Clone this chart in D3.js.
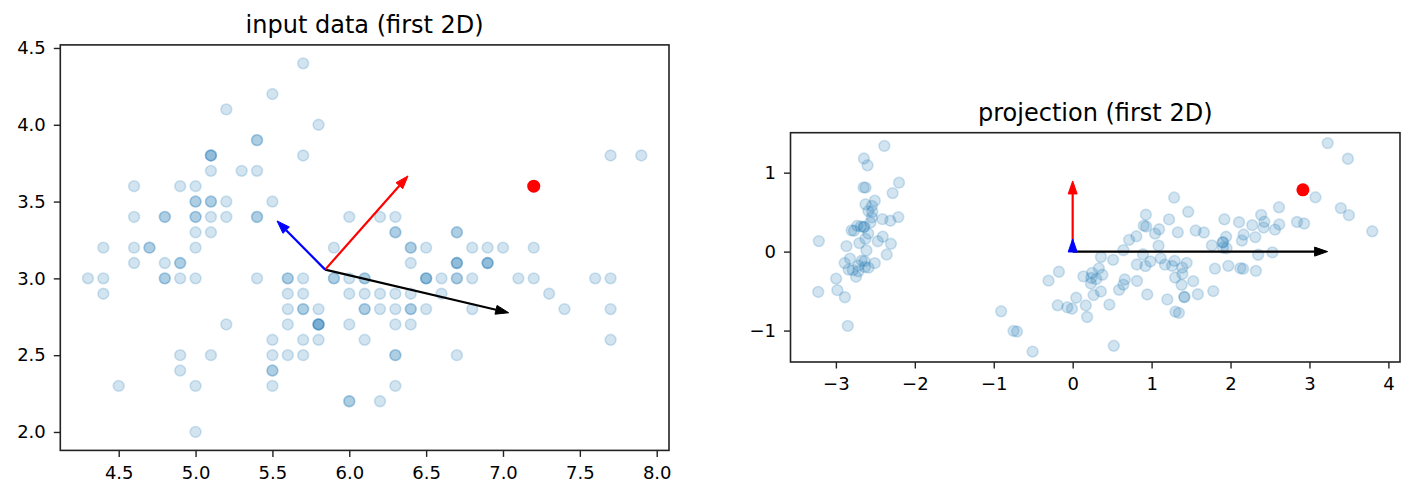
<!DOCTYPE html>
<html>
<head>
<meta charset="utf-8">
<script src="https://cdn.jsdelivr.net/npm/d3@7"></script>
<style>
  body { margin: 0; background: #fff; }
  svg text { font-family: "DejaVu Sans", sans-serif; }
</style>
</head>
<body>
<div id="chart"></div>
<script>
// iris: sepal length / sepal width (first 2D of the input)
var sepalLength = [
  5.1,4.9,4.7,4.6,5.0,5.4,4.6,5.0,4.4,4.9,5.4,4.8,4.8,4.3,5.8,5.7,5.4,5.1,5.7,5.1,
  5.4,5.1,4.6,5.1,4.8,5.0,5.0,5.2,5.2,4.7,4.8,5.4,5.2,5.5,4.9,5.0,5.5,4.9,4.4,5.1,
  5.0,4.5,4.4,5.0,5.1,4.8,5.1,4.6,5.3,5.0,
  7.0,6.4,6.9,5.5,6.5,5.7,6.3,4.9,6.6,5.2,5.0,5.9,6.0,6.1,5.6,6.7,5.6,5.8,6.2,5.6,
  5.9,6.1,6.3,6.1,6.4,6.6,6.8,6.7,6.0,5.7,5.5,5.5,5.8,6.0,5.4,6.0,6.7,6.3,5.6,5.5,
  5.5,6.1,5.8,5.0,5.6,5.7,5.7,6.2,5.1,5.7,
  6.3,5.8,7.1,6.3,6.5,7.6,4.9,7.3,6.7,7.2,6.5,6.4,6.8,5.7,5.8,6.4,6.5,7.7,7.7,6.0,
  6.9,5.6,7.7,6.3,6.7,7.2,6.2,6.1,6.4,7.2,7.4,7.9,6.4,6.3,6.1,7.7,6.3,6.4,6.0,6.9,
  6.7,6.9,5.8,6.8,6.7,6.7,6.3,6.5,6.2,5.9
];
var sepalWidth = [
  3.5,3.0,3.2,3.1,3.6,3.9,3.4,3.4,2.9,3.1,3.7,3.4,3.0,3.0,4.0,4.4,3.9,3.5,3.8,3.8,
  3.4,3.7,3.6,3.3,3.4,3.0,3.4,3.5,3.4,3.2,3.1,3.4,4.1,4.2,3.1,3.2,3.5,3.6,3.0,3.4,
  3.5,2.3,3.2,3.5,3.8,3.0,3.8,3.2,3.7,3.3,
  3.2,3.2,3.1,2.3,2.8,2.8,3.3,2.4,2.9,2.7,2.0,3.0,2.2,2.9,2.9,3.1,3.0,2.7,2.2,2.5,
  3.2,2.8,2.5,2.8,2.9,3.0,2.8,3.0,2.9,2.6,2.4,2.4,2.7,2.7,3.0,3.4,3.1,2.3,3.0,2.5,
  2.6,3.0,2.6,2.3,2.7,3.0,2.9,2.9,2.5,2.8,
  3.3,2.7,3.0,2.9,3.0,3.0,2.5,2.9,2.5,3.6,3.2,2.7,3.0,2.5,2.8,3.2,3.0,3.8,2.6,2.2,
  3.2,2.8,2.8,2.7,3.3,3.2,2.8,3.0,2.8,3.0,2.8,3.8,2.8,2.8,2.6,3.0,3.4,3.1,3.0,3.1,
  3.1,3.1,2.7,3.2,3.3,3.0,2.5,3.0,3.4,3.0
];

// projection onto the first two components
var proj1 = [
  -2.684,-2.714,-2.889,-2.745,-2.729,-2.281,-2.821,-2.626,-2.886,-2.673,
  -2.507,-2.613,-2.786,-3.224,-2.645,-2.386,-2.624,-2.648,-2.200,-2.588,
  -2.310,-2.544,-3.216,-2.303,-2.356,-2.507,-2.469,-2.562,-2.640,-2.632,
  -2.587,-2.410,-2.649,-2.599,-2.637,-2.866,-2.625,-2.801,-2.981,-2.590,
  -2.770,-2.849,-2.997,-2.406,-2.209,-2.714,-2.538,-2.839,-2.543,-2.703,
  1.285,0.932,1.464,0.183,1.088,0.642,1.095,-0.749,1.044,-0.009,
  -0.508,0.512,0.265,0.985,-0.174,0.928,0.660,0.236,0.945,0.045,
  1.116,0.358,1.298,0.922,0.715,0.900,1.332,1.558,0.813,-0.306,
  -0.068,-0.190,0.136,1.380,0.588,0.807,1.221,0.815,0.246,0.166,
  0.465,0.891,0.231,-0.705,0.357,0.332,0.376,0.643,-0.906,0.299,
  2.531,1.415,2.617,1.972,2.350,3.397,0.521,2.933,2.321,2.917,
  1.662,1.803,2.166,1.346,1.586,1.904,1.950,3.487,3.796,1.301,
  2.428,1.199,3.500,1.389,2.275,2.614,1.259,1.291,2.124,2.388,
  2.842,3.231,2.159,1.444,1.781,3.076,2.144,1.905,1.169,2.108,
  2.314,1.922,1.415,2.563,2.419,1.944,1.527,1.764,1.901,1.390
];
var proj2 = [
  0.319,-0.177,-0.145,-0.318,0.327,0.741,-0.089,0.163,-0.578,-0.114,
  0.645,0.015,-0.235,-0.511,1.179,1.338,0.811,0.312,0.873,0.514,
  0.391,0.433,0.133,0.099,-0.037,-0.146,0.131,0.368,0.312,-0.197,
  -0.204,0.411,0.813,1.093,-0.121,0.069,0.599,0.269,-0.488,0.229,
  0.264,-0.941,-0.342,0.189,0.437,-0.250,0.504,-0.228,0.579,0.108,
  0.685,0.318,0.504,-0.828,0.075,-0.418,0.283,-1.005,0.228,-0.723,
  -1.266,-0.104,-0.550,-0.125,-0.255,0.467,-0.353,-0.334,-0.543,-0.584,
  -0.085,-0.069,-0.328,-0.183,0.149,0.329,0.244,0.267,-0.163,-0.368,
  -0.705,-0.680,-0.314,-0.421,-0.484,0.194,0.408,-0.372,-0.269,-0.682,
  -0.671,-0.034,-0.404,-1.012,-0.505,-0.213,-0.293,0.018,-0.756,-0.349,
  -0.010,-0.575,0.344,-0.180,-0.040,0.551,-1.193,0.356,-0.244,0.783,
  0.242,-0.216,0.216,-0.777,-0.540,0.119,0.042,1.176,0.257,-0.761,
  0.378,-0.606,0.461,-0.204,0.335,0.561,-0.180,-0.117,-0.210,0.465,
  0.375,1.374,-0.217,-0.143,-0.500,0.688,0.140,0.049,-0.165,0.372,
  0.184,0.409,-0.575,0.278,0.305,0.188,-0.375,0.079,0.117,-0.283
];

// the one sample drawn in red
var highlightIndex = 109;

// component arrows: start point and end points (data units)
var arrowColors = ["black", "red", "blue"];
var inputOrigin = [5.843, 3.057];
var inputArrowEnds = [[7.037, 2.776], [6.382, 3.667], [5.530, 3.374]];
var projOrigin = [0, 0];
var projArrowEnds = [[3.23, 0], [0, 0.895], [0, 0.16]];

var inputXTicks = [4.5, 5.0, 5.5, 6.0, 6.5, 7.0, 7.5, 8.0];
var inputYTicks = [2.0, 2.5, 3.0, 3.5, 4.0, 4.5];
var projXTicks = [-3, -2, -1, 0, 1, 2, 3, 4];
var projYTicks = [-1, 0, 1];

var titles = ["input data (first 2D)", "projection (first 2D)"];

var svgWidth = 1413;
var svgHeight = 498;

var svg = d3.select("#chart")
  .append("svg")
  .attr("width", svgWidth)
  .attr("height", svgHeight);

var blue = "#1f77b4";

function drawPanel(opts) {
  var x = d3.scaleLinear().domain(opts.xDomain).range([opts.left, opts.right]);
  var y = d3.scaleLinear().domain(opts.yDomain).range([opts.bottom, opts.top]);

  var xAxis = svg.append("g")
    .attr("transform", `translate(0, ${opts.bottom})`)
    .call(d3.axisBottom(x).tickValues(opts.xTicks).tickFormat(opts.fmt)
      .tickSizeInner(6.5).tickSizeOuter(0).tickPadding(9));
  var yAxis = svg.append("g")
    .attr("transform", `translate(${opts.left}, 0)`)
    .call(d3.axisLeft(y).tickValues(opts.yTicks).tickFormat(opts.fmt)
      .tickSizeInner(6.5).tickSizeOuter(0).tickPadding(8));

  [xAxis, yAxis].forEach(function(a) {
    a.select(".domain").remove();
    a.selectAll(".tick line").attr("stroke", "#222").attr("stroke-width", 1.4);
    a.selectAll(".tick text")
      .attr("fill", "#000")
      .attr("font-size", "18px")
      .attr("font-family", "DejaVu Sans");
  });

  // scatter points
  svg.append("g")
    .selectAll("circle")
    .data(opts.xs)
    .enter()
    .append("circle")
    .attr("cx", (d, i) => x(opts.xs[i]))
    .attr("cy", (d, i) => y(opts.ys[i]))
    .attr("r", 5.4)
    .attr("fill", blue)
    .attr("fill-opacity", 0.2)
    .attr("stroke", blue)
    .attr("stroke-opacity", 0.2)
    .attr("stroke-width", 1.6);

  // highlighted sample
  svg.append("circle")
    .attr("cx", x(opts.xs[highlightIndex]))
    .attr("cy", y(opts.ys[highlightIndex]))
    .attr("r", 6.5)
    .attr("fill", "red");

  // arrows
  var x0 = x(opts.origin[0]), y0 = y(opts.origin[1]);
  opts.ends.forEach(function(e, i) {
    var x1 = x(e[0]), y1 = y(e[1]);
    var dx = x1 - x0, dy = y1 - y0;
    var len = Math.sqrt(dx * dx + dy * dy);
    var ux = dx / len, uy = dy / len;
    var headLen = 13, headW = 4.5;
    var bx = x1 - ux * headLen, by = y1 - uy * headLen;
    if (len > headLen) {
      svg.append("line")
        .attr("x1", x0).attr("y1", y0)
        .attr("x2", bx).attr("y2", by)
        .attr("stroke", arrowColors[i])
        .attr("stroke-width", 2.2);
    }
    svg.append("path")
      .attr("d", `M${x1},${y1}L${bx - uy * headW},${by + ux * headW}L${bx + uy * headW},${by - ux * headW}Z`)
      .attr("fill", arrowColors[i])
      .attr("stroke", arrowColors[i])
      .attr("stroke-width", 1)
      .attr("stroke-linejoin", "miter");
  });

  // frame
  svg.append("rect")
    .attr("x", opts.left)
    .attr("y", opts.top)
    .attr("width", opts.right - opts.left)
    .attr("height", opts.bottom - opts.top)
    .attr("fill", "none")
    .attr("stroke", "#222")
    .attr("stroke-width", 1.6);

  svg.append("text")
    .attr("x", (opts.left + opts.right) / 2)
    .attr("y", opts.top - 11.5)
    .attr("text-anchor", "middle")
    .attr("font-size", "24px")
    .attr("fill", "#000")
    .text(opts.title);
}

drawPanel({
  xs: sepalLength, ys: sepalWidth,
  xDomain: [4.12, 8.08], yDomain: [1.88, 4.52],
  left: 60.3, right: 669, top: 44.9, bottom: 450.4,
  xTicks: inputXTicks, yTicks: inputYTicks, fmt: d3.format(".1f"),
  origin: inputOrigin, ends: inputArrowEnds,
  title: titles[0]
});

drawPanel({
  xs: proj1, ys: proj2,
  xDomain: [-3.575, 4.147], yDomain: [-1.398, 1.506],
  left: 790.5, right: 1400, top: 132.7, bottom: 362,
  xTicks: projXTicks, yTicks: projYTicks, fmt: d3.format("d"),
  origin: projOrigin, ends: projArrowEnds,
  title: titles[1]
});
</script>
</body>
</html>
